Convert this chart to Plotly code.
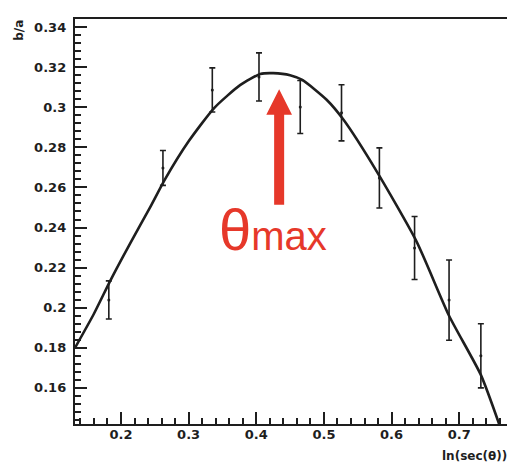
import plotly.graph_objects as go

# measured data points
x_pts = [0.182, 0.262, 0.335, 0.404, 0.465, 0.526, 0.582, 0.634, 0.685, 0.732]
y_pts = [0.2039, 0.2697, 0.3086, 0.3151, 0.3001, 0.2972, 0.2647, 0.2298, 0.2038, 0.176]
y_err = [0.0095, 0.0087, 0.011, 0.012, 0.0132, 0.014, 0.015, 0.0157, 0.020, 0.016]

# fitted curve
x_fit = [0.132, 0.160, 0.185, 0.215, 0.243, 0.265, 0.300, 0.338, 0.376, 0.406,
         0.425, 0.450, 0.468, 0.504, 0.529, 0.578, 0.637, 0.685, 0.732, 0.759]
y_fit = [0.180, 0.197, 0.214, 0.233, 0.250, 0.264, 0.283, 0.2997, 0.311, 0.3166,
         0.317, 0.316, 0.3136, 0.3037, 0.2937, 0.268, 0.233, 0.196, 0.1665, 0.142]

x_ticks = [0.2, 0.3, 0.4, 0.5, 0.6, 0.7]
y_ticks = [0.16, 0.18, 0.2, 0.22, 0.24, 0.26, 0.28, 0.3, 0.32, 0.34]

# arrow pointing at the maximum (data units)
arrow_x = 0.4338
arrow_tip, arrow_head_base, arrow_tail = 0.3090, 0.2962, 0.2513
arrow_shaft_hw, arrow_head_hw = 0.0074, 0.0190

INK = "#1e1e1e"
RED = "#e6382a"
FONT = "DejaVu Sans, Arial, sans-serif"
RFONT = "Liberation Sans, Arial, sans-serif"

fig = go.Figure()
fig.add_trace(go.Scatter(
    x=x_fit, y=y_fit, mode="lines", line=dict(color=INK, width=2.6, shape="spline", smoothing=0.6),
    hoverinfo="skip", showlegend=False))
fig.add_trace(go.Scatter(
    x=x_pts, y=y_pts, mode="markers",
    marker=dict(color=INK, size=3),
    error_y=dict(type="data", array=y_err, color=INK, thickness=1.6, width=3),
    showlegend=False))

ax_, s, h = arrow_x, arrow_shaft_hw, arrow_head_hw
path = (f"M {ax_-s} {arrow_tail} L {ax_-s} {arrow_head_base} L {ax_-h} {arrow_head_base} "
        f"L {ax_} {arrow_tip} L {ax_+h} {arrow_head_base} L {ax_+s} {arrow_head_base} "
        f"L {ax_+s} {arrow_tail} Z")
fig.add_shape(type="path", path=path, xref="x", yref="y", fillcolor=RED, line=dict(width=0))

fig.add_annotation(
    x=0.425, y=0.239, xref="x", yref="y", showarrow=False,
    text="<span style='font-size:58px'>θ</span><span style='font-size:40px'>max</span>",
    font=dict(family=RFONT, color=RED, size=40))

fig.add_annotation(
    x=0.988, y=-0.0795, xref="paper", yref="paper", xanchor="right", yanchor="middle",
    showarrow=False, text="<b>ln(sec(θ))</b>", font=dict(family=FONT, size=12, color=INK))

fig.add_annotation(
    x=-0.128, y=0.973, xref="paper", yref="paper", xanchor="center", yanchor="middle",
    showarrow=False, textangle=-90, text="<b>b/a</b>", font=dict(family=FONT, size=12, color=INK))

axis_common = dict(
    showline=True, linecolor=INK, linewidth=2.4, mirror=True,
    ticks="inside", tickcolor=INK, tickwidth=1.6, showgrid=False, zeroline=False,
    tickfont=dict(family=FONT, size=13, color=INK, weight="bold"),
)

fig.update_xaxes(range=[0.132, 0.781], tickvals=x_ticks, ticklen=12, ticklabelstandoff=-3,
                 minor=dict(dtick=0.02, tick0=0.0, ticks="inside", ticklen=6, tickcolor=INK, tickwidth=1.6),
                 **axis_common)
fig.update_yaxes(range=[0.142, 0.344], tickvals=y_ticks, ticklen=12, ticklabelstandoff=4,
                 minor=dict(dtick=0.004, tick0=0.0, ticks="inside", ticklen=6, tickcolor=INK, tickwidth=1.6),
                 **axis_common)

fig.update_layout(
    width=515, height=462,
    margin=dict(l=67, r=7, t=11, b=46),
    plot_bgcolor="white", paper_bgcolor="white",
    font=dict(family=FONT, color=INK),
)

fig.write_html("out.html")
